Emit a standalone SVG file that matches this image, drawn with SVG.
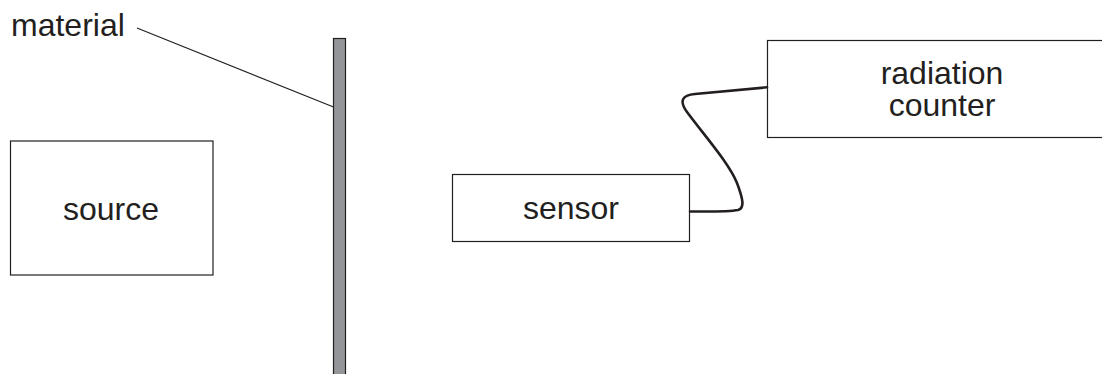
<svg xmlns="http://www.w3.org/2000/svg" width="1102" height="374" viewBox="0 0 1102 374">
  <style>
    .box { fill: #ffffff; stroke: #231f20; stroke-width: 1.2; }
    .label { font-family: "Liberation Sans", Arial, sans-serif; font-size: 32px; fill: #231f20; }
    .mid { text-anchor: middle; }
    .wire { fill: none; stroke: #231f20; stroke-width: 2.6; stroke-linecap: round; stroke-linejoin: round; }
    .leader { fill: none; stroke: #231f20; stroke-width: 1.2; }
  </style>
  <rect width="1102" height="374" fill="#ffffff"/>

  <g id="source">
    <rect class="box" x="10.5" y="141" width="202.5" height="134"/>
    <text class="label mid" x="111" y="220">source</text>
  </g>

  <g id="material">
    <rect x="333.5" y="38.5" width="12" height="340" fill="#939598" stroke="#231f20" stroke-width="1.2"/>
    <text class="label" x="11" y="36">material</text>
  </g>

  <g id="sensor">
    <rect class="box" x="452.5" y="174.5" width="237" height="67"/>
    <text class="label mid" x="571" y="219">sensor</text>
  </g>

  <g id="counter">
    <rect class="box" x="767.5" y="40.5" width="350" height="97"/>
    <text class="label mid" x="942" y="84">radiation</text>
    <text class="label mid" x="942" y="116">counter</text>
  </g>

  <g id="connectors">
    <path class="leader" d="M137,28 L333.5,107"/>
    <path class="wire" d="M767,87.3 L695,94 C682,95 679,101 687,112 C704,135 729,163 737,183 C743,199 745,208 738,210 C728,212 705,211.5 690,211.5"/>
  </g>
</svg>
